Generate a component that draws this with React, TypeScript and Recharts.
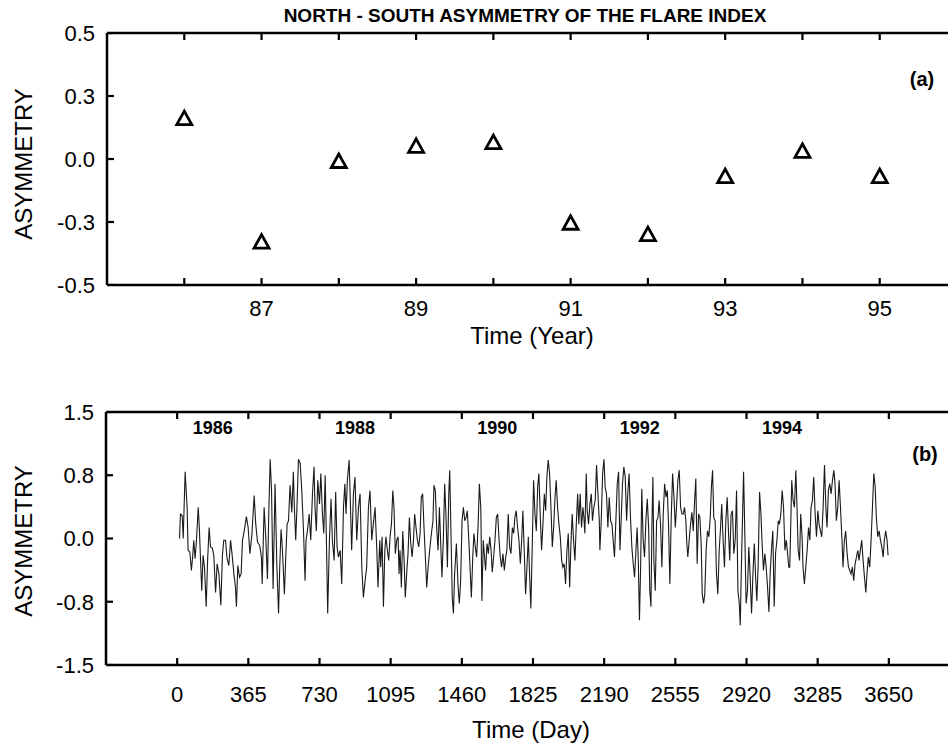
import { ComposedChart, Line, Scatter, ScatterChart, XAxis, YAxis } from "recharts";

// (a) yearly N-S asymmetry of the flare index
const years = [86, 87, 88, 89, 90, 91, 92, 93, 94, 95];
const yearlyAsym = [0.16, -0.33, -0.01, 0.05, 0.065, -0.255, -0.3, -0.07, 0.03, -0.07];
const yearTicks = [86, 87, 88, 89, 90, 91, 92, 93, 94, 95];
const yearAsymTicks = [-0.5, -0.25, 0, 0.25, 0.5];

// (b) daily asymmetry as [day, value]
const dailyReadings: [number, number][] = [
    [12, 0.0], [17, 0.29], [26, 0.27], [31, 0.0], [34, 0.25], [41, 0.79], [46, 0.57], [51, 0.37],
    [56, -0.14], [65, -0.16], [73, -0.38], [80, -0.2], [85, -0.02], [92, -0.24], [99, -0.02], [108, 0.37],
    [114, 0.11], [120, -0.26], [126, -0.62], [133, -0.2], [140, -0.34], [149, -0.81], [156, -0.26], [164, 0.13],
    [171, -0.1], [180, -0.11], [188, -0.2], [197, -0.64], [205, -0.3], [214, -0.42], [224, -0.79], [232, -0.2],
    [239, -0.02], [248, -0.02], [256, -0.24], [265, -0.32], [274, -0.02], [282, -0.2], [291, -0.42], [299, -0.58],
    [304, -0.81], [311, -0.32], [320, -0.46], [328, -0.42], [335, -0.02], [344, 0.09], [355, 0.26], [364, 0.13],
    [373, -0.18], [383, 0.04], [395, 0.51], [403, 0.17], [412, -0.04], [424, -0.09], [432, -0.22], [436, -0.54],
    [446, 0.37], [455, -0.02], [463, -0.48], [470, 0.31], [477, 0.94], [484, 0.57], [492, -0.6],
    [502, 0.65], [511, -0.3], [520, -0.89], [526, -0.34], [533, 0.11], [540, -0.14], [550, -0.66], [557, -0.22],
    [564, 0.17], [571, 0.21], [579, 0.63], [588, 0.31], [596, 0.79], [601, 0.37], [608, -0.02], [615, 0.41],
    [622, 0.94], [631, 0.89], [639, 0.57], [648, 0.09], [656, -0.5], [661, -0.02], [668, 0.09], [677, 0.29],
    [685, -0.02], [694, 0.53], [702, 0.85], [707, 0.37], [714, 0.09], [721, 0.69], [730, 0.41], [737, 0.77],
    [745, 0.29], [752, 0.06], [759, 0.75], [767, -0.22], [772, -0.89], [781, -0.02], [789, 0.47], [796, -0.02],
    [805, -0.26], [813, 0.55], [820, -0.1], [827, -0.22], [836, -0.14], [844, -0.54], [853, 0.37], [860, 0.65],
    [866, 0.29], [873, 0.69], [882, 0.93], [889, 0.37], [895, -0.14], [904, 0.53], [912, 0.73], [921, -0.02],
    [930, 0.37], [938, 0.53], [947, -0.34], [955, -0.7], [964, -0.5], [972, -0.34], [981, 0.37], [989, 0.57],
    [998, -0.02], [1006, 0.17], [1015, 0.37], [1024, -0.14],
    [1030, -0.58], [1039, -0.02], [1044, -0.34], [1051, 0.02], [1058, -0.81], [1065, -0.14], [1071, 0.02], [1078, -0.14],
    [1085, -0.26], [1092, 0.02], [1099, 0.17], [1106, 0.57], [1112, 0.37], [1119, -0.18], [1126, -0.02], [1133, 0.02],
    [1138, -0.42], [1143, -0.14], [1150, -0.58], [1157, 0.09], [1164, -0.26], [1170, -0.7], [1177, -0.42], [1184, -0.18],
    [1191, 0.25], [1198, -0.06], [1205, -0.22], [1212, -0.02], [1218, 0.29], [1225, 0.13], [1232, -0.02], [1239, -0.1],
    [1246, 0.06], [1252, 0.49], [1259, 0.53], [1266, 0.13], [1273, -0.22], [1280, -0.58], [1287, -0.34], [1295, -0.14],
    [1304, 0.06], [1312, 0.21], [1317, 0.63], [1324, 0.57], [1331, 0.13], [1338, -0.14], [1345, 0.37], [1351, -0.02],
    [1358, -0.46], [1365, -0.02], [1372, 0.65], [1379, 0.25], [1386, -0.34], [1393, 0.53], [1398, 0.81], [1405, -0.02],
    [1411, -0.7], [1417, -0.89], [1423, -0.42], [1432, -0.06], [1441, -0.58], [1447, -0.77], [1454, -0.5], [1461, 0.21],
    [1468, 0.37], [1475, 0.21], [1482, 0.25], [1488, 0.33], [1495, 0.02], [1502, -0.34], [1509, -0.7], [1516, -0.22],
    [1522, 0.06], [1529, -0.1], [1536, -0.22], [1543, 0.13], [1550, 0.65], [1557, 0.37],
    [1558, 0.25], [1563, -0.74], [1570, -0.02], [1575, -0.18], [1582, -0.38], [1589, -0.06], [1596, -0.18], [1603, 0.02],
    [1610, -0.14], [1616, -0.4], [1623, -0.22], [1630, -0.02], [1637, 0.25], [1644, 0.29], [1650, 0.02], [1657, -0.22],
    [1664, -0.34], [1671, -0.18], [1678, -0.38], [1685, -0.22], [1691, -0.14], [1698, 0.29], [1705, -0.1], [1712, -0.18],
    [1719, 0.13], [1726, 0.06], [1732, 0.25], [1739, 0.33], [1746, 0.13], [1753, -0.02], [1760, -0.3], [1767, -0.02],
    [1773, 0.33], [1780, -0.14], [1787, -0.66], [1794, -0.34], [1801, 0.02], [1808, -0.46], [1814, -0.83], [1821, -0.1],
    [1828, 0.69], [1835, 0.29], [1842, 0.09], [1849, 0.61], [1855, 0.77], [1862, 0.29], [1869, -0.14], [1876, 0.17],
    [1883, 0.53], [1890, 0.33], [1896, 0.73], [1903, 0.93], [1910, 0.77], [1917, 0.37], [1924, -0.1], [1931, 0.13],
    [1937, 0.45], [1944, 0.69], [1951, 0.37], [1958, 0.17], [1965, 0.02], [1972, -0.26], [1978, -0.34], [1985, -0.3],
    [1992, -0.54], [1999, -0.14], [2006, 0.06], [2013, -0.58], [2019, -0.1], [2026, 0.29], [2033, -0.02], [2040, -0.26],
    [2047, 0.17], [2054, 0.53], [2060, 0.17], [2067, 0.53], [2074, 0.13], [2081, 0.37],
    [2086, 0.25], [2091, 0.06], [2098, 0.77], [2103, 0.33], [2110, 0.17], [2117, 0.41], [2124, 0.53], [2130, 0.21],
    [2137, 0.37], [2144, 0.45], [2151, 0.87], [2158, 0.53], [2165, 0.21], [2168, -0.14], [2175, 0.21], [2182, 0.77],
    [2189, 0.94], [2195, 0.61], [2202, 0.53], [2209, 0.13], [2216, 0.49], [2223, 0.21], [2230, 0.17], [2236, -0.02],
    [2243, -0.22], [2250, 0.21], [2257, 0.65], [2264, 0.79], [2271, -0.14], [2277, 0.21], [2284, 0.65], [2291, 0.85],
    [2298, 0.73], [2305, 0.21], [2312, 0.57], [2318, 0.77], [2325, 0.25], [2332, -0.1], [2339, -0.3], [2346, -0.46],
    [2353, -0.14], [2359, 0.13], [2365, -0.26], [2371, -0.97], [2377, -0.34], [2383, 0.59], [2390, -0.02], [2397, -0.22],
    [2404, 0.21], [2411, 0.47], [2418, 0.13], [2424, -0.62], [2430, -0.81], [2435, 0.17], [2440, 0.73], [2445, -0.26],
    [2452, -0.62], [2459, 0.21], [2466, 0.25], [2472, 0.45], [2479, 0.17], [2486, -0.34], [2493, 0.29], [2500, 0.65],
    [2507, 0.49], [2514, 0.57], [2520, 0.17], [2527, -0.54], [2534, 0.25], [2541, 0.77], [2548, 0.49], [2555, 0.13],
    [2561, 0.37], [2568, 0.69], [2575, 0.81], [2582, 0.37], [2589, 0.29], [2596, 0.29], [2602, 0.37], [2609, 0.21],
    [2614, -0.06], [2619, -0.22], [2626, -0.02], [2633, 0.17], [2640, 0.31], [2647, 0.09], [2653, 0.41], [2660, 0.71],
    [2667, -0.3], [2674, 0.29], [2681, 0.25], [2688, -0.1], [2693, -0.66], [2700, -0.77], [2706, -0.66], [2713, -0.14],
    [2720, 0.09], [2727, 0.02], [2734, 0.25], [2740, 0.61], [2746, 0.81], [2752, 0.25], [2759, 0.21], [2766, -0.42],
    [2773, -0.66], [2780, -0.14], [2787, 0.13], [2793, 0.41], [2800, -0.02], [2807, -0.34], [2814, 0.21], [2821, 0.49],
    [2828, 0.06], [2834, -0.26], [2841, 0.29], [2848, 0.33], [2855, -0.18], [2862, -0.02], [2869, 0.57], [2876, -0.62],
    [2883, -0.77], [2888, -1.03], [2893, -0.42], [2900, 0.29], [2905, 0.79], [2912, -0.02], [2918, -0.77], [2925, -0.62],
    [2932, -0.1], [2939, -0.46], [2946, -0.89], [2953, -0.42], [2960, -0.06], [2966, -0.42], [2973, -0.74], [2980, -0.3],
    [2987, 0.55], [2994, 0.29], [3000, -0.06], [3007, -0.38], [3014, -0.18], [3021, -0.34], [3028, -0.58], [3035, -0.87],
    [3042, -0.38], [3048, -0.14], [3055, 0.09], [3062, -0.81], [3069, -0.18], [3076, -0.02], [3083, 0.21], [3089, 0.17],
    [3096, 0.29], [3103, 0.57], [3110, 0.37], [3117, -0.14], [3124, -0.02], [3131, -0.18], [3137, -0.34],
    [3142, -0.34], [3147, 0.17], [3152, 0.69], [3159, 0.45], [3166, 0.37], [3173, 0.81], [3178, 0.45], [3185, -0.14],
    [3192, -0.26], [3198, 0.29], [3205, 0.02], [3210, -0.34], [3217, -0.54], [3224, -0.34], [3231, -0.14], [3238, 0.13],
    [3245, -0.02], [3251, 0.37], [3258, 0.45], [3265, 0.73], [3272, 0.29], [3279, 0.02], [3286, 0.33], [3292, 0.17],
    [3299, 0.09], [3306, 0.02], [3313, 0.37], [3320, 0.87], [3327, 0.37], [3333, 0.13], [3340, 0.57], [3347, 0.65],
    [3354, 0.53], [3361, 0.69], [3368, 0.81], [3374, 0.65], [3381, 0.21], [3388, 0.37], [3395, 0.69], [3402, 0.37],
    [3409, 0.02], [3415, -0.34], [3422, -0.02], [3429, 0.09], [3436, -0.18], [3443, -0.34], [3450, -0.38], [3456, -0.42],
    [3463, -0.34], [3470, -0.5], [3477, -0.3], [3484, -0.22], [3491, -0.14], [3497, -0.26], [3504, -0.14], [3511, -0.02],
    [3518, -0.26], [3525, -0.46], [3532, -0.64], [3538, -0.42], [3545, -0.22], [3552, -0.34], [3559, -0.02], [3566, 0.37],
    [3573, 0.77], [3580, 0.61], [3586, 0.25], [3593, 0.02], [3600, 0.09], [3607, -0.02], [3614, -0.1], [3621, -0.22],
    [3627, -0.02], [3634, 0.09], [3641, -0.02], [3646, -0.2],
];
const dayTicks = [0, 365, 730, 1095, 1460, 1825, 2190, 2555, 2920, 3285, 3650];
const dayAsymTicks = [-1.5, -0.75, 0, 0.75, 1.5];
// year names sit in the middle of every other year along the top of (b)
const yearLabelDays = [182, 912, 1642, 2372, 3102];
const yearLabels = ["1986", "1988", "1990", "1992", "1994"];

const yearDomain: [number, number] = [85, 96];
const yearAsymDomain: [number, number] = [-0.5, 0.5];
const dayDomain: [number, number] = [-365, 4015];
const dayAsymDomain: [number, number] = [-1.5, 1.5];

const yearlyData = years.map((year, i) => ({ year, asym: yearlyAsym[i] }));
const dailyData = dailyReadings.map(([day, asym]) => ({ day, asym }));

// the frame's inward tick marks, one point per mark on the edge it belongs to
type Side = "bottom" | "top" | "left" | "right";
function edgeMarks(xKey: string, xDom: [number, number], yDom: [number, number], xTicks: number[], yTicks: number[]) {
    const marks: Record<string, number | Side>[] = [];
    xTicks.forEach((t) => {
        marks.push({ [xKey]: t, asym: yDom[0], side: "bottom" });
        marks.push({ [xKey]: t, asym: yDom[1], side: "top" });
    });
    yTicks.forEach((t) => {
        marks.push({ [xKey]: xDom[0], asym: t, side: "left" });
        marks.push({ [xKey]: xDom[1], asym: t, side: "right" });
    });
    return marks;
}
const yearMarks = edgeMarks("year", yearDomain, yearAsymDomain, yearTicks, yearAsymTicks);
const dayMarks = edgeMarks("day", dayDomain, dayAsymDomain, dayTicks, dayAsymTicks);

const FONT = "'Liberation Sans', Arial, Helvetica, sans-serif";
const axisLine = { stroke: "#000", strokeWidth: 2.5 };
const tickText = { fontSize: 22, fill: "#000" };
const oneDecimal = (v: number) => v.toFixed(1);
const noLabel = () => "";

const MARK_LEN = 7;
const markDir: Record<Side, [number, number]> = {
    bottom: [0, -MARK_LEN],
    top: [0, MARK_LEN],
    left: [MARK_LEN, 0],
    right: [-MARK_LEN, 0],
};

function EdgeMark(props: any) {
    const { cx, cy } = props;
    const side: Side | undefined = props.payload?.side ?? props.side;
    if (cx == null || cy == null || !side) return null;
    const [dx, dy] = markDir[side];
    return <line x1={cx} y1={cy} x2={cx + dx} y2={cy + dy} stroke="#000" strokeWidth={2.2} />;
}

function Triangle(props: any) {
    const { cx, cy } = props;
    if (cx == null || cy == null) return null;
    return (
        <polygon
            points={`${cx},${cy - 7.5} ${cx - 7.5},${cy + 6} ${cx + 7.5},${cy + 6}`}
            fill="#fff"
            stroke="#000"
            strokeWidth={2.8}
        />
    );
}

// left/bottom axes are 1px thick so recharts still draws them; the margins make up the rest.
// top/right are mirrored axes that only give the frame its other two sides.
function YearlyPanel() {
    return (
        <ScatterChart width={1000} height={749} data={yearlyData} margin={{ top: 33, right: 43, bottom: 463, left: 106 }}>
            <XAxis
                xAxisId="b"
                type="number"
                dataKey="year"
                domain={yearDomain}
                allowDataOverflow
                ticks={yearTicks}
                interval={0}
                tickFormatter={(y: number) => (y % 2 === 1 ? String(y) : "")}
                height={1}
                tickSize={0}
                tickMargin={15}
                axisLine={axisLine}
                tickLine={false}
                tick={tickText}
            />
            <XAxis
                xAxisId="t"
                orientation="top"
                mirror
                type="number"
                dataKey="year"
                domain={yearDomain}
                allowDataOverflow
                ticks={yearTicks}
                tickFormatter={noLabel}
                height={1}
                axisLine={axisLine}
                tickLine={false}
            />
            <YAxis
                yAxisId="l"
                type="number"
                dataKey="asym"
                domain={yearAsymDomain}
                allowDataOverflow
                ticks={yearAsymTicks}
                interval={0}
                tickFormatter={oneDecimal}
                width={1}
                tickSize={0}
                tickMargin={12}
                axisLine={axisLine}
                tickLine={false}
                tick={tickText}
            />
            <YAxis
                yAxisId="r"
                orientation="right"
                mirror
                type="number"
                dataKey="asym"
                domain={yearAsymDomain}
                allowDataOverflow
                ticks={yearAsymTicks}
                tickFormatter={noLabel}
                width={1}
                axisLine={axisLine}
                tickLine={false}
            />
            <Scatter data={yearMarks} xAxisId="b" yAxisId="l" shape={EdgeMark} isAnimationActive={false} />
            <Scatter data={yearlyData} xAxisId="b" yAxisId="l" shape={Triangle} isAnimationActive={false} />
            <Scatter data={yearlyData} xAxisId="t" yAxisId="r" shape={() => null} isAnimationActive={false} />
        </ScatterChart>
    );
}

function DailyPanel() {
    return (
        <ComposedChart width={1000} height={749} data={dailyData} margin={{ top: 412, right: 40, bottom: 83, left: 105 }}>
            <XAxis
                xAxisId="b"
                type="number"
                dataKey="day"
                domain={dayDomain}
                allowDataOverflow
                ticks={dayTicks}
                interval={0}
                height={1}
                tickSize={0}
                tickMargin={21}
                axisLine={axisLine}
                tickLine={false}
                tick={tickText}
            />
            <XAxis
                xAxisId="t"
                orientation="top"
                mirror
                type="number"
                dataKey="day"
                domain={dayDomain}
                allowDataOverflow
                ticks={dayTicks}
                tickFormatter={noLabel}
                height={1}
                axisLine={axisLine}
                tickLine={false}
            />
            <XAxis
                xAxisId="yr"
                orientation="top"
                mirror
                type="number"
                dataKey="day"
                domain={dayDomain}
                allowDataOverflow
                ticks={yearLabelDays}
                interval={0}
                tickFormatter={(d: number) => yearLabels[yearLabelDays.indexOf(d)]}
                height={1}
                tickSize={0}
                tickMargin={8}
                axisLine={false}
                tickLine={false}
                tick={{ fontSize: 18, fontWeight: "bold", fill: "#000" }}
            />
            <YAxis
                yAxisId="l"
                type="number"
                dataKey="asym"
                domain={dayAsymDomain}
                allowDataOverflow
                ticks={dayAsymTicks}
                interval={0}
                tickFormatter={oneDecimal}
                width={1}
                tickSize={0}
                tickMargin={12}
                axisLine={axisLine}
                tickLine={false}
                tick={tickText}
            />
            <YAxis
                yAxisId="r"
                orientation="right"
                mirror
                type="number"
                dataKey="asym"
                domain={dayAsymDomain}
                allowDataOverflow
                ticks={dayAsymTicks}
                tickFormatter={noLabel}
                width={1}
                axisLine={axisLine}
                tickLine={false}
            />
            <Line
                xAxisId="b"
                yAxisId="l"
                type="linear"
                dataKey="asym"
                stroke="#1a1a1a"
                strokeWidth={1.1}
                dot={false}
                isAnimationActive={false}
            />
            <Scatter data={dayMarks} xAxisId="b" yAxisId="l" dataKey="asym" shape={EdgeMark} isAnimationActive={false} />
            <Line xAxisId="t" yAxisId="r" dataKey="asym" stroke="none" dot={false} isAnimationActive={false} />
            <Line xAxisId="yr" yAxisId="r" dataKey="asym" stroke="none" dot={false} isAnimationActive={false} />
        </ComposedChart>
    );
}

export default function App() {
    return (
        <div
            style={{
                position: "absolute",
                left: 0,
                top: 0,
                width: 948,
                height: 749,
                overflow: "hidden",
                background: "#fff",
                fontFamily: FONT,
            }}
        >
            <div style={{ position: "absolute", left: 0, top: 0 }}>
                <YearlyPanel />
            </div>
            <div style={{ position: "absolute", left: 0, top: 0 }}>
                <DailyPanel />
            </div>
            <svg
                width={948}
                height={749}
                style={{ position: "absolute", left: 0, top: 0, pointerEvents: "none" }}
                fontFamily={FONT}
                fill="#000"
            >
                <text x={525} y={22} textAnchor="middle" fontSize={19} fontWeight="bold">
                    NORTH - SOUTH ASYMMETRY OF THE FLARE INDEX
                </text>
                <text x={922} y={86} textAnchor="middle" fontSize={20} fontWeight="bold">(a)</text>
                <text x={925} y={461} textAnchor="middle" fontSize={20} fontWeight="bold">(b)</text>
                <text x={532} y={344} textAnchor="middle" fontSize={24}>Time (Year)</text>
                <text x={531} y={738} textAnchor="middle" fontSize={24}>Time (Day)</text>
                <text transform="translate(32 164) rotate(-90)" textAnchor="middle" fontSize={24}>ASYMMETRY</text>
                <text transform="translate(32 541) rotate(-90)" textAnchor="middle" fontSize={24}>ASYMMETRY</text>
            </svg>
        </div>
    );
}
